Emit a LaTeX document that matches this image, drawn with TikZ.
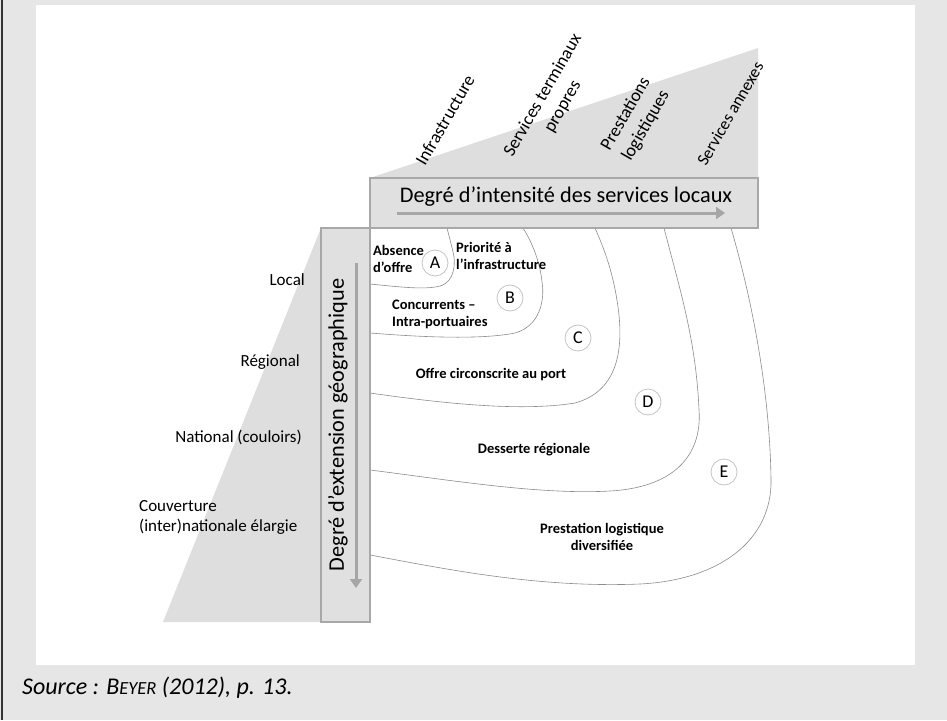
\documentclass[tikz,border=0pt]{standalone}
\usepackage{fontspec}
\setmainfont{Carlito}
\usetikzlibrary{arrows.meta}
\definecolor{bggray}{HTML}{E6E6E6}
\definecolor{boxgray}{HTML}{E0E0E0}
\definecolor{edgegray}{HTML}{A8A8A8}
\definecolor{arrgray}{HTML}{A6A6A6}
\definecolor{curvegray}{HTML}{8C8C8C}
\definecolor{ringgray}{HTML}{C4C4C4}
\definecolor{wedgegray}{HTML}{DEDEDE}
\begin{document}
\begin{tikzpicture}[x=1pt, y=-1pt,
            axisbox/.style={fill=boxgray, draw=edgegray, line width=1.8pt},
            wedge/.style={fill=wedgegray},
            zone/.style={draw=curvegray, line width=0.6pt},
            ring/.style={draw=ringgray, line width=0.8pt, circle, minimum size=26pt, inner sep=0pt, font=\fontsize{18}{20}\selectfont},
            zonelabel/.style={font=\fontsize{14.5}{17}\selectfont\bfseries, inner sep=0pt},
            scalelabel/.style={font=\fontsize{17}{20}\selectfont, inner sep=0pt},
            servlabel/.style={font=\fontsize{18}{23}\selectfont, rotate=60, inner sep=0pt, align=center},
            axistitle/.style={font=\fontsize{22.3}{24}\selectfont, inner sep=0pt},
            axisarrow/.style={draw=arrgray, line width=3pt, -{Triangle[length=9pt,width=12pt]}}]
                \useasboundingbox (0,0) rectangle (947,720);
                \fill[bggray] (0,0) rectangle (947,720);
                \fill[white] (36,5) rectangle (915,665);
                \draw[black!80, line width=1.5pt] (2,0) -- (2,720);
                \fill[wedge] (370,178) -- (758,48) -- (758,178) -- cycle;
                \fill[wedge] (163,622) -- (321,228) -- (321,622) -- cycle;
                \draw[zone] (370,284) .. controls (400,287) and (425,290) .. (440,286) .. controls (455,282) and (456,262) .. (453,252) .. controls (451,243) and (449,236) .. (447,228);
                \draw[zone] (370,333) .. controls (420,337) and (480,340) .. (515,333) .. controls (540,326) and (545,300) .. (542,282) .. controls (540,262) and (532,242) .. (523,228);
                \draw[zone] (370,393) .. controls (440,403) and (520,412) .. (575,403) .. controls (615,392) and (623,355) .. (619,315) .. controls (615,280) and (607,255) .. (595,228);
                \draw[zone] (370,470) .. controls (450,480) and (540,495) .. (610,491) .. controls (680,487) and (702,450) .. (699,410) .. controls (696,340) and (680,290) .. (664,228);
                \draw[zone] (370,555) .. controls (450,570) and (540,588) .. (640,584) .. controls (720,580) and (772,540) .. (771,480) .. controls (770,400) and (755,310) .. (731,228);
                \node[axisbox, minimum width=388pt, minimum height=50pt] (servbox) at (564,203) {};
                \node[axisbox, minimum width=49pt, minimum height=394pt] (geobox) at (345.5,425) {};
                \node[axistitle] (servtitle) at (566,197) {Degré d’intensité des services locaux};
                \node[axistitle, rotate=90] (geotitle) at (338,425) {Degré d’extension géographique};
                \coordinate (servfrom) at (397,213);
                \coordinate (servto) at (725,213);
                \coordinate (geofrom) at (356,263);
                \coordinate (geoto) at (356,588);
                \draw[axisarrow] (servfrom) -- (servto);
                \draw[axisarrow] (geofrom) -- (geoto);
                \node[servlabel, anchor=base west] (infra) at (425,167) {Infrastructure};
                \node[servlabel] (terminaux) at (553,101) {Services terminaux\\propres};
                \node[servlabel] (logist) at (636,120) {Prestations\\logistiques};
                \node[servlabel, anchor=base west, font=\fontsize{17}{21}\selectfont] (annexes) at (706,167) {Services annexes};
                \node[scalelabel, anchor=east] (local) at (305,280) {Local};
                \node[scalelabel, anchor=east] (regional) at (300,362) {Régional};
                \node[scalelabel, anchor=east] (national) at (302,437) {National (couloirs)};
                \node[scalelabel, anchor=west, align=left] (couverture) at (139,517) {Couverture\\(inter)nationale élargie};
                \node[ring] (ringA) at (435,263) {A};
                \node[ring] (ringB) at (510,298) {B};
                \node[ring] (ringC) at (578,338) {C};
                \node[ring] (ringD) at (648,402) {D};
                \node[ring] (ringE) at (724,472) {E};
                \node[zonelabel, anchor=west, align=left] (absence) at (373,259) {Absence\\d’offre};
                \node[zonelabel, anchor=west, align=left] (priorite) at (456,256) {Priorité à\\l’infrastructure};
                \node[zonelabel, anchor=west, align=left] (concurrents) at (392,314) {Concurrents –\\Intra-portuaires};
                \node[zonelabel] (circonscrite) at (491,375) {Offre circonscrite au port};
                \node[zonelabel] (desserte) at (534,450) {Desserte régionale};
                \node[zonelabel, align=center] (diversifiee) at (602,537) {Prestation logistique\\diversifiée};
                \node[anchor=west, font=\fontsize{24}{27}\selectfont\itshape, inner sep=0pt] (source) at (22,688) {Source : B{\fontsize{18.5}{20}\selectfont EYER} (2012), p. 13.};
            \end{tikzpicture}
\end{document}
